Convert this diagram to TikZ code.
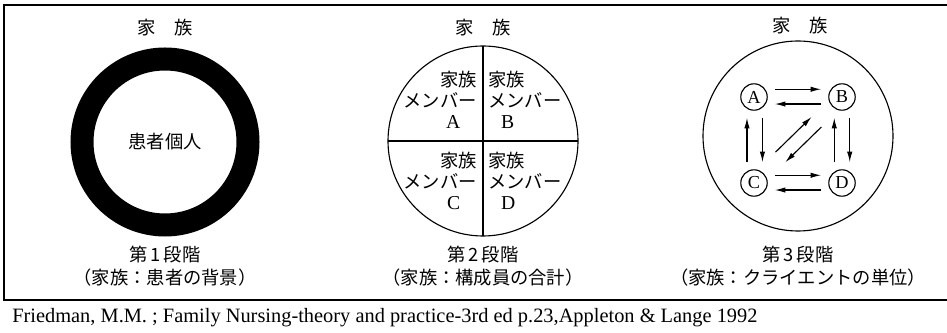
\documentclass[tikz,border=0pt]{standalone}
\usepackage{fontspec}
\setmainfont{Liberation Serif}
\newfontfamily\jpfont{Noto Sans CJK JP}
\usetikzlibrary{arrows.meta, positioning, calc}
\tikzset{
  jptext/.style={font=\jpfont\fontsize{13}{15}\selectfont, inner sep=0pt},
  member/.style={circle, draw, line width=0.8pt, minimum size=0.66cm, inner sep=0pt,
                 font=\fontsize{13}{15}\selectfont},
  flow/.style={-{Latex[length=7.5pt,width=3.8pt]}, line width=0.8pt},
  gap/.style={shorten <=5pt, shorten >=5pt},
  rim/.style={line width=0.8pt}
}

\begin{document}
\begin{tikzpicture}[x=0.025cm, y=-0.025cm]
\useasboundingbox (0,0) rectangle (947,333);
% frame
\draw[line width=0.9pt] (947,5) -- (4,5) -- (4,300) -- (947,300);

% stage 1
\node[jptext] (fam1) at (165,28) {家\hspace{1em}族};
\draw[line width=0.575cm] (165,142) circle [radius=83];
\node[jptext] (patient) at (165,142) {患者個人};
\node[jptext] (stage1) at (165,255) {第\,1\,段階};
\node[jptext] (note1) at (165,278) {（家族：患者の背景）};

% stage 2
\node[jptext] (fam2) at (483,28) {家\hspace{1em}族};
\draw[rim] (483,141) circle [radius=95];
\draw[rim] (483,46) -- (483,236);
\draw[rim] (388,141) -- (578,141);
\node[jptext, align=right, anchor=east] (qa) at (477,100) {家族\\メンバー\\{\rmfamily\fontsize{14}{15}\selectfont A}\hspace*{0.9em}};
\node[jptext, align=left, anchor=west] (qb) at (488,100) {家族\\メンバー\\\hspace*{0.7em}{\rmfamily\fontsize{14}{15}\selectfont B}};
\node[jptext, align=right, anchor=east] (qc) at (477,181) {家族\\メンバー\\{\rmfamily\fontsize{14}{15}\selectfont C}\hspace*{0.9em}};
\node[jptext, align=left, anchor=west] (qd) at (488,181) {家族\\メンバー\\\hspace*{0.7em}{\rmfamily\fontsize{14}{15}\selectfont D}};
\node[jptext] (stage2) at (483,255) {第\,2\,段階};
\node[jptext] (note2) at (483,278) {（家族：構成員の合計）};

% stage 3
\node[jptext] (fam3) at (800,26) {家\hspace{1em}族};
\draw[rim] (798,136) circle [radius=95];
\node[member] (nA) at (754,97) {A};
\node[member] (nB) at (842,97) {B};
\node[member] (nC) at (754,183) {C};
\node[member] (nD) at (842,183) {D};
\draw[flow, gap] ([yshift=5.5pt]nA.east) -- ([yshift=5.5pt]nB.west);
\draw[flow, gap] ([yshift=-5pt]nB.west) -- ([yshift=-5pt]nA.east);
\draw[flow, gap] ([yshift=5.5pt]nC.east) -- ([yshift=5.5pt]nD.west);
\draw[flow, gap] ([yshift=-5pt]nD.west) -- ([yshift=-5pt]nC.east);
\draw[flow, gap] ([xshift=-5pt]nC.north) -- ([xshift=-5pt]nA.south);
\draw[flow, gap] ([xshift=6pt]nA.south) -- ([xshift=6pt]nC.north);
\draw[flow, gap] ([xshift=-5.5pt]nD.north) -- ([xshift=-5.5pt]nB.south);
\draw[flow, gap] ([xshift=5.5pt]nB.south) -- ([xshift=5.5pt]nD.north);
\draw[flow] ($(nC)!0.3!(nB)!5pt!90:(nB)$) -- ($(nC)!0.71!(nB)!5pt!90:(nB)$);
\draw[flow] ($(nC)!0.71!(nB)!5pt!-90:(nB)$) -- ($(nC)!0.3!(nB)!5pt!-90:(nB)$);
\node[jptext] (stage3) at (798,255) {第\,3\,段階};
\node[jptext] (note3) at (798,278) {（家族：クライエントの単位）};

% source
\node[anchor=west, inner sep=0pt, font=\fontsize{14.5}{16}\selectfont] (source) at (12,318)
  {Friedman, M.M. ; Family Nursing-theory and practice-3rd ed p.23,Appleton \& Lange 1992};
\end{tikzpicture}
\end{document}
